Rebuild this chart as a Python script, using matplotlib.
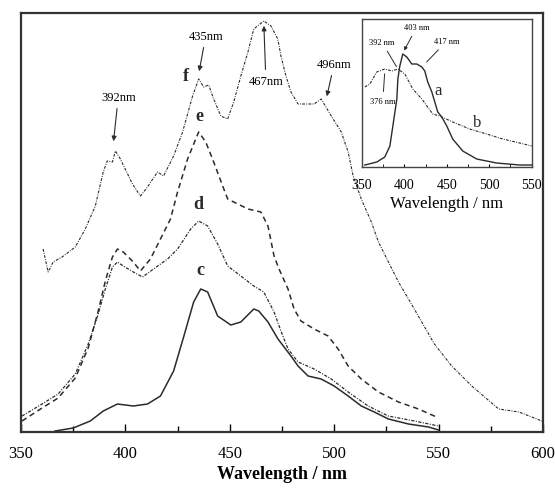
import matplotlib
matplotlib.use('Agg')
import matplotlib.pyplot as plt
from matplotlib.ticker import MultipleLocator, NullLocator

plt.rcParams['font.family'] = ['Liberation Serif', 'DejaVu Serif']

# main spectra (wavelength nm, intensity arb.)
f_wl = [360.6, 363, 365.4, 369.7, 376, 380.8, 385.6, 389.4, 391.3, 393.8, 395.2, 397.6,
        403.4, 407.2, 410.6, 415.4, 418.3, 423.1, 427.4, 432.2, 435.1, 437.5, 439.9, 442.3,
        445.7, 449, 451.9, 455.3, 458.7, 461.5, 466.3, 469.7, 473, 474.5, 476.9, 479.3,
        482.7, 490.4, 493.8, 498.6, 503.4, 506.7, 509.1, 513, 517.8, 521.2, 526, 530.8,
        537, 548, 556.3, 565.9, 578.8, 588.5, 599.5]
f_int = [183, 160, 170, 175, 185, 203, 226, 260, 271, 270, 281, 273,
         248, 236, 245, 260, 256, 276, 300, 336, 353, 345, 347, 333,
         316, 313, 330, 356, 380, 403, 411, 406, 393, 376, 356, 340,
         328, 328, 333, 316, 300, 280, 256, 233, 210, 190, 170, 150,
         128, 88, 66, 46, 23, 20, 11]

e_wl = [350.5, 360.1, 367.8, 376, 382.2, 387, 390.4, 393.8, 396.2, 399, 403.8, 407.2,
        412, 416.8, 421.6, 425, 429.8, 433.7, 435.1, 438.5, 442.3, 446.6, 449, 451.9,
        458.7, 464.9, 468.3, 471.2, 473.6, 477.9, 480.8, 484.1, 490.4, 497.1, 501.9,
        506.7, 513, 521.2, 530.8, 540.4, 549]
e_int = [11, 24, 34, 54, 84, 121, 151, 175, 183, 180, 170, 161,
         173, 193, 213, 240, 273, 293, 300, 290, 270, 246, 233, 230,
         223, 220, 206, 176, 163, 143, 123, 111, 103, 96, 83,
         66, 53, 40, 30, 23, 15]

d_wl = [350.5, 360.1, 367.8, 376, 382.2, 387, 390.4, 393.8, 396.2, 399, 403.8, 408.2,
        413.5, 420.2, 425, 431.3, 435.1, 439.4, 444.2, 449, 455.3, 461.5, 466.3, 471.2,
        474.5, 477.9, 482.7, 490.4, 498.6, 506.7, 516.3, 525.9, 538.5, 550]
d_int = [16, 28, 38, 58, 88, 118, 143, 165, 170, 166, 160, 155,
         163, 173, 183, 203, 211, 206, 188, 166, 156, 146, 140, 120,
         101, 83, 70, 63, 53, 40, 26, 16, 11, 6]

c_wl = [366.3, 375, 383.2, 389.4, 396.2, 403.8, 410.6, 416.8, 423.1, 427.9, 432.7, 436.1,
        439.4, 444.2, 450.5, 455.3, 461.5, 463.9, 468.3, 473.1, 479.3, 482.7, 487.5,
        493.75, 500, 506.7, 513, 519.2, 526, 535.6, 545.2, 550]
c_int = [1, 4, 11, 21, 28, 26, 28, 36, 61, 95, 130, 143,
         140, 116, 107, 110, 123, 121, 110, 93, 76, 66, 56,
         53, 46, 36, 26, 20, 13, 8, 5, 2]

# inset spectra
a_wl = [353.5, 367.6, 377, 383, 386.5, 391.2, 392.4, 394.7, 398.2, 402.9, 408.8, 414.7,
        420.6, 424.1, 427.6, 432.4, 435.9, 439.4, 444.1, 450, 457, 468.8, 485.3, 508.8,
        535.9, 550]
a_int = [2, 5, 10, 21, 41, 68, 88, 101, 113, 110, 103, 103,
         100, 96, 85, 75, 65, 55, 50, 41, 28, 16, 8, 4,
         2, 2]

b_wl = [353.5, 359.4, 367.6, 377, 385.3, 392.4, 400.6, 410, 420.6, 433.5, 441.8, 457,
        477, 497, 515.9, 535.9, 550]
b_int = [80, 83, 95, 98, 96, 98, 93, 78, 68, 53, 51, 45,
         38, 33, 28, 24, 21]

x_ticks = [350, 400, 450, 500, 550, 600]
inset_ticks = [350, 400, 450, 500, 550]

ink = '#2b2b2b'

fig = plt.figure(figsize=(5.55, 4.89), dpi=100)
ax = fig.add_axes([0.0378, 0.1145, 0.9405, 0.8569])

ax.plot(c_wl, c_int, '-', color=ink, lw=1.1)
ax.plot(d_wl, d_int, color=ink, lw=0.9, dashes=(2.5, 1.2, 0.8, 1.2))
ax.plot(e_wl, e_int, color=ink, lw=1.1, dashes=(3.5, 2.5))
ax.plot(f_wl, f_int, color=ink, lw=0.8, dashes=(2.5, 1.2, 0.8, 1.2))

ax.set_xlim(350, 600)
ax.set_ylim(0, 419)
ax.set_xticks(x_ticks)
ax.xaxis.set_minor_locator(MultipleLocator(25))
ax.yaxis.set_major_locator(NullLocator())
ax.tick_params(axis='x', which='both', direction='in', top=False, labelsize=12, pad=9)
ax.tick_params(axis='x', which='major', length=6, width=1)
ax.tick_params(axis='x', which='minor', length=4, width=1)
for s in ax.spines.values():
    s.set_linewidth(1.6)
    s.set_color('#333333')
ax.set_xlabel('Wavelength / nm', fontsize=13, fontweight='bold', labelpad=3)

# peak labels
arrow = dict(arrowstyle='-|>', color=ink, lw=0.8, mutation_scale=7)
ax.annotate('392nm', xy=(394.2, 288), xytext=(396.6, 335), fontsize=9,
            ha='center', va='center', arrowprops=arrow)
ax.annotate('435nm', xy=(435.1, 358), xytext=(438.5, 396), fontsize=9,
            ha='center', va='center', arrowprops=arrow)
ax.annotate('467nm', xy=(466.3, 409), xytext=(467.3, 351), fontsize=9,
            ha='center', va='center', arrowprops=arrow)
ax.annotate('496nm', xy=(496.2, 333), xytext=(500, 368), fontsize=9,
            ha='center', va='center', arrowprops=arrow)
for lab, x, y in [('f', 428.8, 356), ('e', 435.6, 316), ('d', 435.1, 228), ('c', 436, 163)]:
    ax.text(x, y, lab, fontsize=13, fontweight='bold', ha='center', va='center', color=ink)

# inset
ins = fig.add_axes([0.652, 0.6564, 0.306, 0.3027])
ins.plot(a_wl, a_int, '-', color=ink, lw=1.0)
ins.plot(b_wl, b_int, color=ink, lw=0.8, dashes=(2.5, 1.2, 0.8, 1.2))
ins.set_xlim(350, 550)
ins.set_ylim(0, 148)
ins.set_xticks(inset_ticks)
ins.xaxis.set_minor_locator(MultipleLocator(25))
ins.yaxis.set_major_locator(NullLocator())
ins.tick_params(axis='x', which='both', direction='in', labelsize=10, pad=8, length=2)
for s in ins.spines.values():
    s.set_linewidth(1.0)
    s.set_color('#444444')
ins.set_xlabel('Wavelength / nm', fontsize=12, labelpad=3)

line = dict(arrowstyle='-', color=ink, lw=0.7)
ins.annotate('403 nm', xy=(398.2, 114), xytext=(414.7, 140), fontsize=6,
             ha='center', va='center', arrowprops=dict(arrowstyle='-|>', color=ink, lw=0.7,
                                                       mutation_scale=5))
ins.annotate('392 nm', xy=(392.4, 98), xytext=(373.5, 125), fontsize=6,
             ha='center', va='center', arrowprops=line)
ins.annotate('417 nm', xy=(424.1, 103), xytext=(450, 126), fontsize=6,
             ha='center', va='center', arrowprops=line)
ins.annotate('376 nm', xy=(377, 96), xytext=(374.7, 66), fontsize=6,
             ha='center', va='center', arrowprops=line)
ins.text(439.4, 77, 'a', fontsize=12, ha='center', va='center', color=ink)
ins.text(485.3, 45, 'b', fontsize=12, ha='center', va='center', color=ink)

fig.savefig('out.png', dpi=100)
